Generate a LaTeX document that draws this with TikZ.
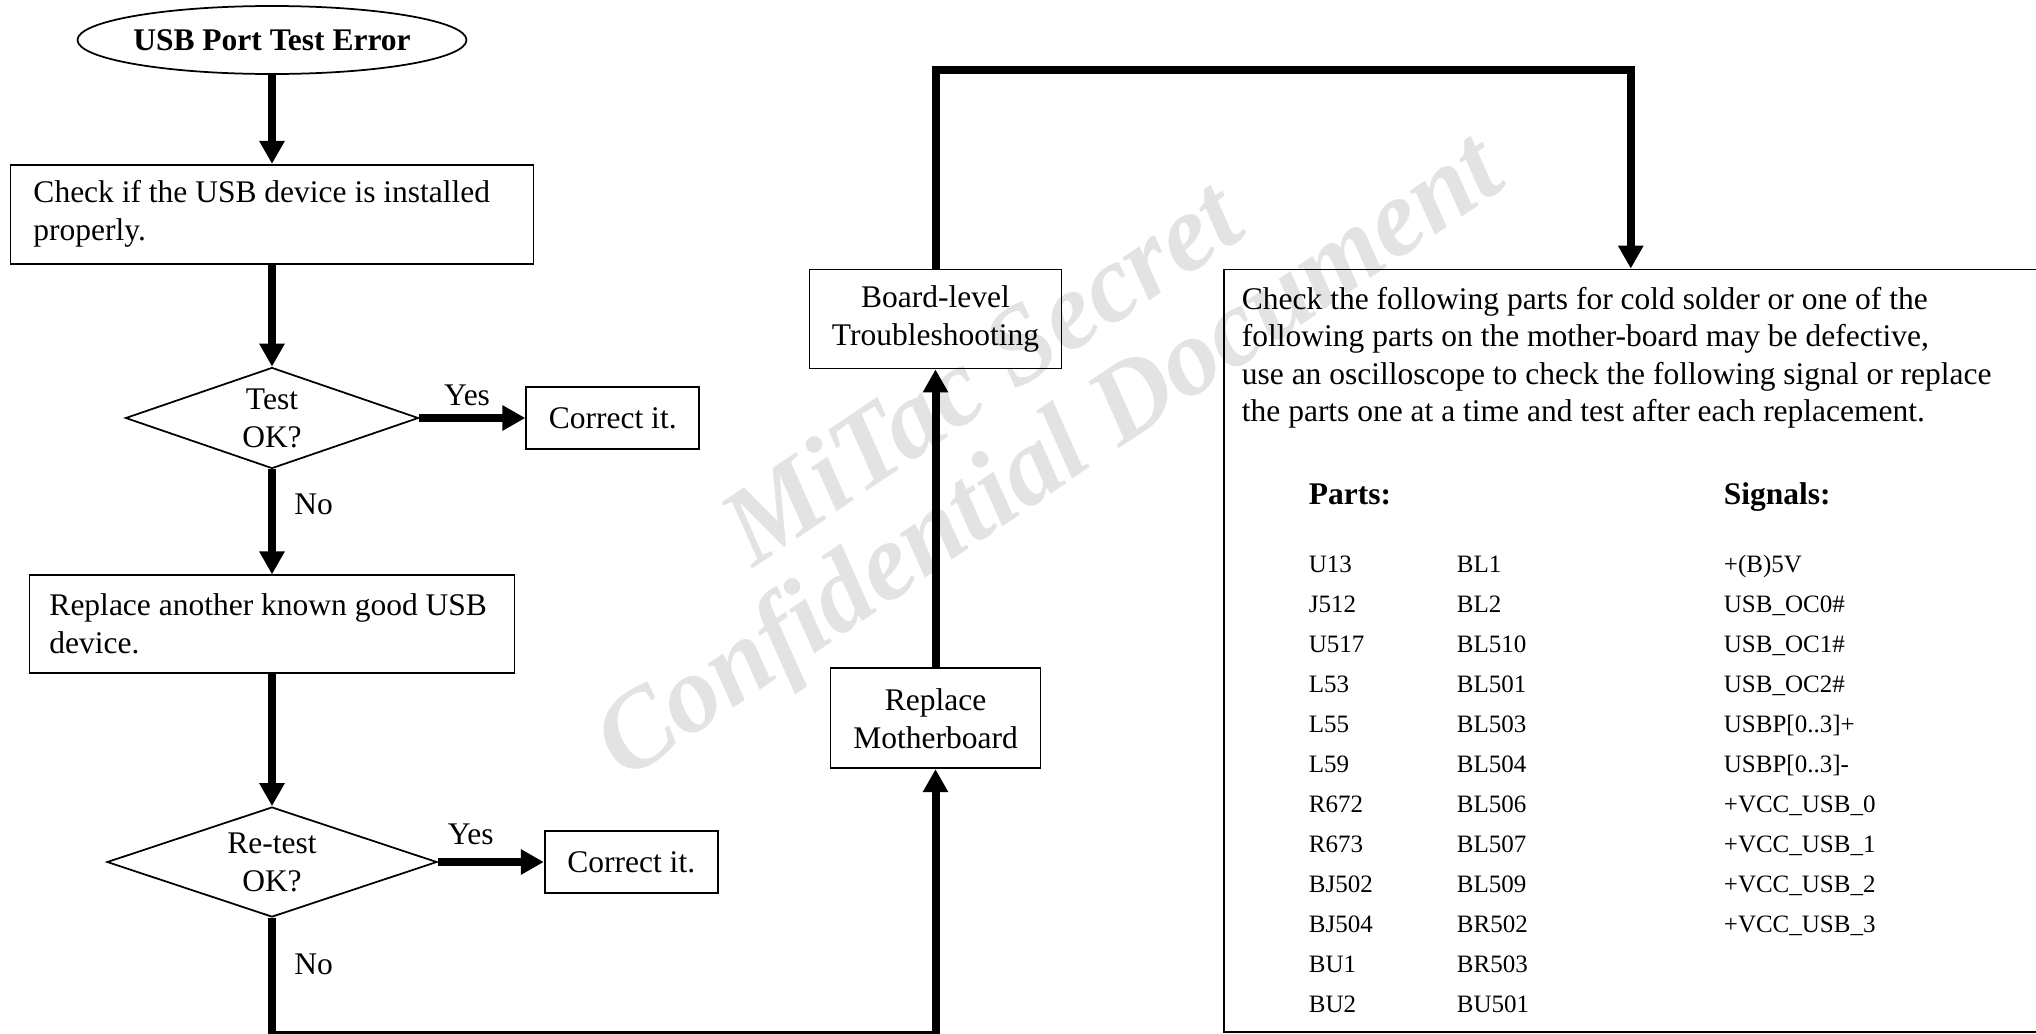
\documentclass[tikz,border=0pt]{standalone}
\usepackage{fontspec}
\setmainfont{Liberation Serif}
\usepackage{tikz}
\usetikzlibrary{shapes.geometric, arrows.meta, positioning}
\usepackage{xcolor}

\begin{document}
\begin{tikzpicture}[
    x=0.4pt, y=-0.4pt,
    every node/.style={font=\fontsize{12.6}{15.2}\selectfont},
    startstop/.style={ellipse, draw, line width=0.7pt, inner xsep=-1pt, inner ysep=0pt, minimum width=155.6pt, minimum height=27.2pt, font=\fontsize{12.6}{15.2}\selectfont\bfseries},
    process/.style={rectangle, draw, line width=0.7pt, inner sep=0pt, align=center},
    steptext/.style={process, align=flush left, inner xsep=9.2pt},
    decision/.style={diamond, draw, line width=0.7pt, aspect=2.9, inner sep=0pt, align=center},
    note/.style={rectangle, draw, line width=0.7pt, minimum width=325.2pt, minimum height=305pt},
    watermark/.style={font=\fontsize{44}{44}\selectfont\bfseries\itshape, text=black!11},
    arrow/.style={-{Triangle[length=9.2pt, width=9.6pt]}, line width=3.2pt},
]
\useasboundingbox (0,0) rectangle (2036,1034);

% Watermark
\node[watermark, rotate=34] (wmupper) at (980,370) {MiTac Secret};
\node[watermark, rotate=34] (wmlower) at (1052,461) {Confidential Document};

% Start
\node[startstop] (start) at (272,40) {USB Port Test Error};
\node[steptext, text width=190.8pt, minimum height=39.6pt, below=35.6pt of start] (check) {Check if the USB device is installed\\properly.};
\node[decision, minimum width=117.2pt, minimum height=40.4pt, below=40.8pt of check] (test) {Test\\OK?};
\node[process, minimum width=69.2pt, minimum height=24.8pt, right=42.4pt of test] (fixone) {Correct it.};
\node[steptext, text width=178pt, inner xsep=8pt, minimum height=39.2pt, below=42pt of test] (swapdev) {Replace another known good USB\\device.};
\node[decision, minimum width=132pt, minimum height=44pt, below=52.8pt of swapdev] (retest) {Re-test\\OK?};
\node[process, minimum width=69.2pt, minimum height=24.8pt, right=42.4pt of retest] (fixtwo) {Correct it.};

% Board branch
\node[process, minimum width=84pt, minimum height=40pt, above right=24.4pt and 44.4pt of fixtwo] (newmb) {Replace\\Motherboard};
\node[process, minimum width=100.8pt, minimum height=39.6pt, above=119.2pt of newmb] (board) {Board-level\\Troubleshooting};
\node[note, right=64.4pt of board.north east, anchor=north west] (parts) {};
\node[inner sep=0pt, align=flush left, font=\fontsize{12.6}{14.9}\selectfont, below right=7.3pt and 7.2pt of parts.north west] (advice) {Check the following parts for cold solder or one of the\\following parts on the mother-board may be defective,\\use an oscilloscope to check the following signal or replace\\the parts one at a time and test after each replacement.};
\node[inner sep=0pt, font=\fontsize{10}{16}\selectfont, below right=82.8pt and 34pt of parts.north west] (partlist) {%
\begin{tabular}{@{}p{59.2pt}@{}p{106.8pt}@{}l@{}}
{\fontsize{12.6}{15.2}\selectfont\bfseries Parts:} & & {\fontsize{12.6}{15.2}\selectfont\bfseries Signals:}\\[11.2pt]
U13 & BL1 & +(B)5V\\
J512 & BL2 & USB\_OC0\#\\
U517 & BL510 & USB\_OC1\#\\
L53 & BL501 & USB\_OC2\#\\
L55 & BL503 & USBP[0..3]+\\
L59 & BL504 & USBP[0..3]-\\
R672 & BL506 & +VCC\_USB\_0\\
R673 & BL507 & +VCC\_USB\_1\\
BJ502 & BL509 & +VCC\_USB\_2\\
BJ504 & BR502 & +VCC\_USB\_3\\
BU1 & BR503 & \\
BU2 & BU501 &
\end{tabular}};

% Route corners
\coordinate[below=46.8pt of retest.south] (lowturn);
\coordinate[above=79.6pt of board.north] (topturn);

% Arrows
\draw[arrow] (start) -- (check);
\draw[arrow] (check) -- (test);
\draw[arrow] (test) -- node[above, pos=0.45]{Yes} (fixone);
\draw[arrow] (test) -- node[right, pos=0.33, xshift=4pt]{No} (swapdev);
\draw[arrow] (swapdev) -- (retest);
\draw[arrow] (retest) -- node[above, pos=0.31, yshift=2pt]{Yes} (fixtwo);
\draw[arrow] (retest) -- node[right, pos=0.4, xshift=4pt]{No} (lowturn) -| (newmb);
\draw[arrow] (newmb) -- (board);
\draw[arrow] (board) -- (topturn) -| (parts);

\end{tikzpicture}
\end{document}
